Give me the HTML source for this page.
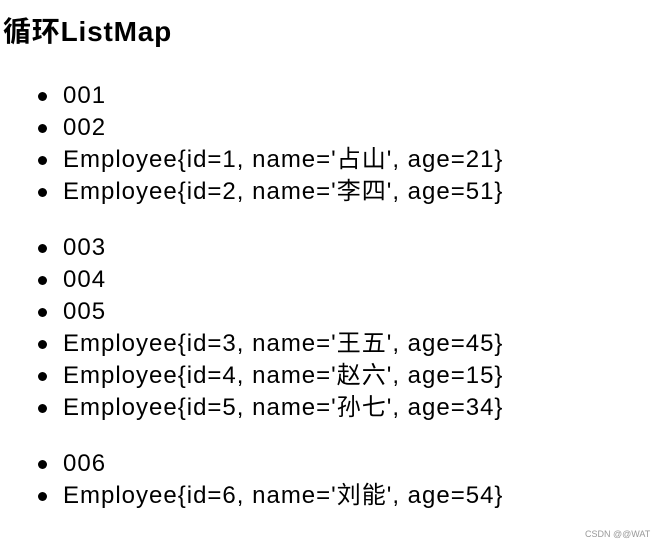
<!DOCTYPE html>
<html><head><meta charset="utf-8"><style>
body{margin:0;width:663px;height:548px;background:#fff;position:relative;overflow:hidden;font-family:"Liberation Sans","Noto Sans CJK SC",sans-serif;color:#000}
h1{position:absolute;left:3px;top:14px;margin:0;font-size:28px;letter-spacing:0.8px;font-weight:bold;line-height:36px;white-space:nowrap}
.i{position:absolute;left:63px;font-size:24px;letter-spacing:1px;line-height:32px;height:32px;white-space:nowrap}
.i:before{content:"";position:absolute;left:-25px;top:12px;width:9px;height:9px;border-radius:50%;background:#000}
.w{position:absolute;left:585px;top:529px;font-size:9px;color:#999;white-space:nowrap}
</style></head><body>
<h1>循环ListMap</h1>
<div class="i" style="top:80px">001</div>
<div class="i" style="top:112px">002</div>
<div class="i" style="top:144px">Employee{id=1, name='占山', age=21}</div>
<div class="i" style="top:176px">Employee{id=2, name='李四', age=51}</div>
<div class="i" style="top:232px">003</div>
<div class="i" style="top:264px">004</div>
<div class="i" style="top:296px">005</div>
<div class="i" style="top:328px">Employee{id=3, name='王五', age=45}</div>
<div class="i" style="top:360px">Employee{id=4, name='赵六', age=15}</div>
<div class="i" style="top:392px">Employee{id=5, name='孙七', age=34}</div>
<div class="i" style="top:448px">006</div>
<div class="i" style="top:480px">Employee{id=6, name='刘能', age=54}</div>
<div class="w">CSDN @@WAT</div>
</body></html>
